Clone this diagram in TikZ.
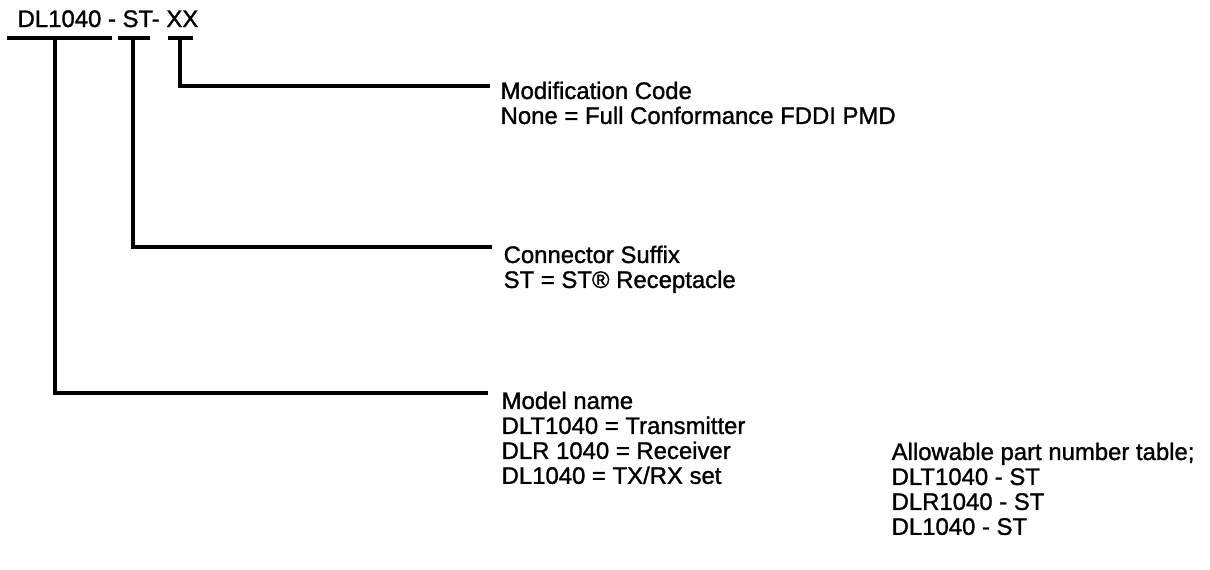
\documentclass[tikz,border=0pt]{standalone}
\usepackage{fontspec}
\setmainfont[FakeBold=1.2,AutoFakeBold=1.2]{Liberation Sans}
\begin{document}
\begin{tikzpicture}[x=0.02cm,y=-0.02cm,line width=1.9pt,
    every node/.style={inner sep=0pt,font=\fontsize{13.6}{14.2}\selectfont\bfseries},
    partinfo/.style={anchor=north west,align=left}]
  \useasboundingbox (0,0) rectangle (1210,569);
  \draw
    (16,27) node[anchor=base west] (title){DL1040 - ST- XX}
    (499,80) node[partinfo] (mod){Modification Code\\None = Full Conformance FDDI PMD}
    (502,244) node[partinfo] (conn){Connector Suffix\\ST = ST® Receptacle}
    (500,390) node[partinfo] (model){Model name\\DLT1040 = Transmitter\\DLR 1040 = Receiver\\DL1040 = TX/RX set}
    (890,441) node[partinfo] (table){Allowable part number table;\\DLT1040 - ST\\DLR1040 - ST\\DL1040 - ST};
  \coordinate (modelbar) at (55,38);
  \coordinate (connbar) at (133,38);
  \coordinate (modbar) at (180,38);
  \draw (7,38) -- (112,38) (118,38) -- (150,38) (168,38) -- (193,38);
  \begin{scope}[-]
    \draw (modbar) |- ([shift={(-9,6)}]mod.north west);
    \draw (connbar) |- ([shift={(-10,3)}]conn.north west);
    \draw (modelbar) |- ([shift={(-12,3)}]model.north west);
  \end{scope}
\end{tikzpicture}
\end{document}
